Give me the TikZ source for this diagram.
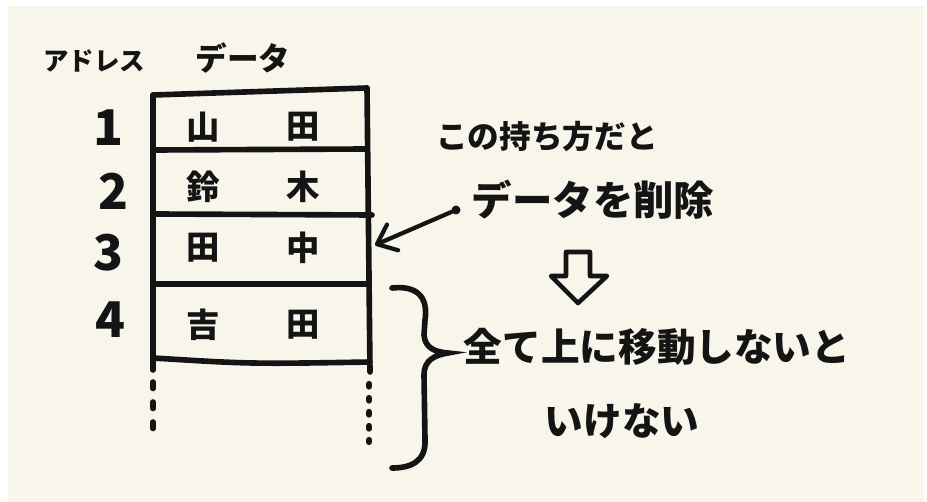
\documentclass[tikz,border=0pt]{standalone}
\usepackage{fontspec}
\newfontfamily\jp{Noto Sans CJK JP}
\usetikzlibrary{positioning, arrows.meta}
\definecolor{paper}{HTML}{F8F6EA}
\definecolor{ink}{HTML}{141414}

\begin{document}
\begin{tikzpicture}
    [
        x=0.2mm, y=-0.2mm, node distance=13mm and 20mm, on grid,
        note_text/.style={inner sep=0pt, text=ink, font=\jp\bfseries\fontsize{#1}{#1}\selectfont},
        addr_text/.style={note_text=28},
        cell_text/.style={note_text=19},
        table_line/.style={line width=3.2pt, color=ink, line cap=round},
    ]
        \useasboundingbox (0,0) rectangle (927,502);
        \fill[white] (0,0) rectangle (927,502);
        \fill[paper] (8,6) rectangle (924,502);
        % headers
        \node[note_text=14.5] (addr_head) at (94,61) {アドレス};
        \node[note_text=18] (data_head) at (243,58) {データ};
        % addresses
        \node[addr_text] (addr1) at (108,128) {1};
        \node[addr_text] (addr2) at (113,191) {2};
        \node[addr_text] (addr3) at (108,253) {3};
        \node[addr_text] (addr4) at (110,320) {4};
        % data
        \node[cell_text] (name1a) at (203,127) {山};
        \node[cell_text] (name1b) [right = of name1a] {田};
        \node[cell_text] (name2a) [below = 12mm of name1a] {鈴};
        \node[cell_text] (name2b) [right = of name2a] {木};
        \node[cell_text] (name3a) [below = 12.2mm of name2a] {田};
        \node[cell_text] (name3b) [right = of name3a] {中};
        \node[cell_text] (name4a) [below = 15.4mm of name3a] {吉};
        \node[cell_text] (name4b) [right = of name4a] {田};
        % table
        \draw[table_line] (153,95) -- (367,88);
        \draw[table_line] (153,95) -- (153,370);
        \draw[table_line] (367,88) -- (370,372);
        \draw[table_line] (155,150) -- (367,149);
        \draw[table_line] (155,214) -- (372,215);
        \draw[table_line] (155,284) -- (369,284);
        \draw[table_line] (153,358) .. controls (250,364) .. (370,362);
        \draw[table_line, dash pattern=on 1.3mm off 2.7mm] (153,382) -- (153,436);
        \draw[table_line, line width=3.6pt, dash pattern=on 0.5mm off 2.3mm] (369,384) -- (369,442);
        % notes
        \node[note_text=18] (note1) at (547,137) {この持ち方だと};
        \node[note_text=23] (note2) at (593,200) {データを削除};
        \node[circle, fill=ink, inner sep=0pt, minimum size=1.8mm] (del_dot) at (456,210) {};
        \coordinate (row3_edge) at (375,245);
        \draw[-{Straight Barb[length=3.4mm, width=5.6mm, round]}, line width=2.4pt, color=ink, line cap=round] (del_dot) -- (row3_edge);
        \draw[line width=2.6pt, color=ink, line join=round] (566,252) -- (590,252) -- (590,276) -- (607,276) -- (578,303) -- (551,276) -- (566,276) -- cycle;
        \draw[table_line] (392,288) .. controls (420,285) and (428,300) .. (425,320) -- (424,335) .. controls (425,348) and (435,352) .. (448,353) .. controls (435,355) and (424,360) .. (424,375) -- (425,440) .. controls (426,462) and (410,468) .. (392,468);
        \node[note_text=22] (note3) at (657,347) {全て上に移動しないと};
        \node[note_text=22] (note4) at (622,421) {いけない};
    \end{tikzpicture}
\end{document}
